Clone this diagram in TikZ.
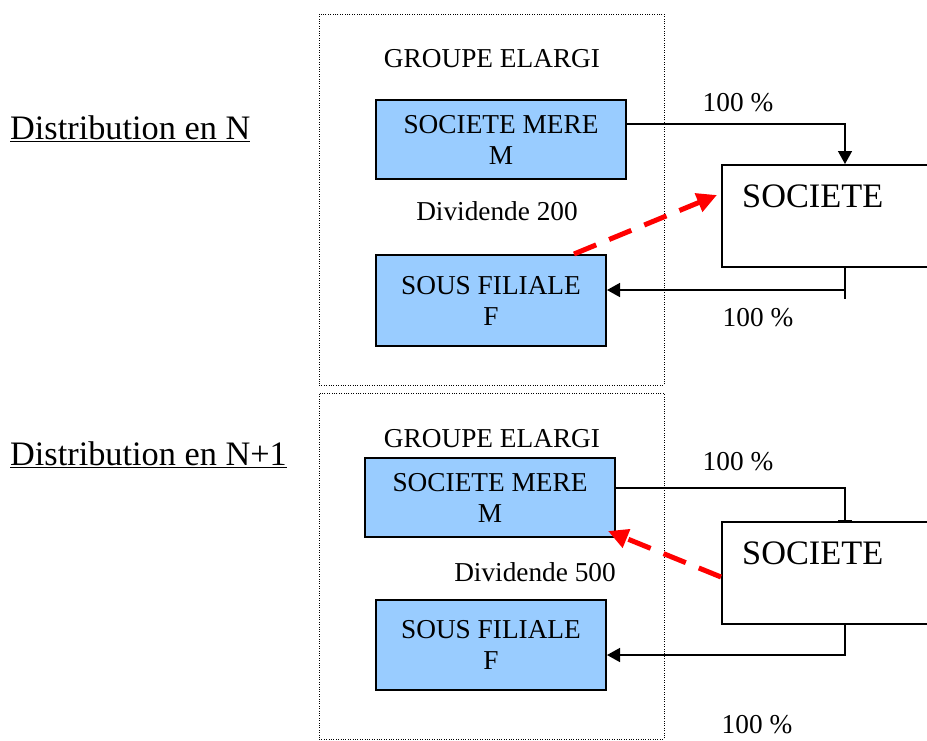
\documentclass[tikz,border=0pt]{standalone}
\usepackage{fontspec}
\setmainfont{Liberation Serif}
\usetikzlibrary{arrows.meta,calc}
\definecolor{boxblue}{HTML}{99CCFF}
\definecolor{divred}{HTML}{FF0000}

\begin{document}
\begin{tikzpicture}[x=1pt,y=-1pt,
  txt/.style={font=\fontsize{27.3}{31.4}\selectfont, inner sep=0pt},
  bigtxt/.style={font=\fontsize{34.3}{40}\selectfont, inner sep=0pt},
  entity/.style={draw=black, line width=2pt, fill=boxblue, align=center,
                 inner sep=0pt, font=\fontsize{27.3}{31}\selectfont},
  societe/.style={draw=black, line width=2pt, fill=white, inner sep=0pt,
                  minimum width=246pt, minimum height=102pt},
  group/.style={draw=black, line width=0.9pt, dash pattern=on 1pt off 1.4pt,
                inner sep=0pt, minimum width=345pt},
  link/.style={draw=black, line width=1.5pt},
  tip/.style={-{Triangle[length=13pt,width=14pt]}},
  bartip/.style={-{Bar[width=14pt,line width=1.5pt]}},
  div/.style={draw=divred, line width=5pt, dash pattern=on 24pt off 14pt,
              -{Triangle[length=20pt,width=19pt]}}
]
\useasboundingbox (0,0) rectangle (927,740);
\clip (0,0) rectangle (927,740);

% ---------- Distribution en N ----------
\node[group, minimum height=371pt] (grp1) at (491.5,199.5) {};
\node[bigtxt, anchor=base west] (title1) at (10,139.5) {\underline{Distribution en N}};
\node[txt, anchor=base] (elargi1) at (492,67) {GROUPE ELARGI};

\node[entity, minimum width=250pt, minimum height=79pt] (mere1) at (501,139.5)
  {SOCIETE MERE\\M};
\node[txt, anchor=base] (div1) at (497,220) {Dividende 200};
\node[entity, minimum width=230pt, minimum height=91pt] (sous1) at (491,300.5)
  {SOUS FILIALE\\F};

\node[societe] (soc1) at (845,216) {};
\node[bigtxt, anchor=base west] (soc1t) at (742,207) {SOCIETE};

\draw[link, tip] (mere1.east |- 0,124) -| (soc1.north);
\node[txt, anchor=base] (pct1a) at (738,111) {100 \%};
\draw[link] (soc1.south) -- ++(0,31);
\draw[link, tip] (soc1.south |- 0,290) -- (sous1.east |- 0,290);
\node[txt, anchor=base] (pct1b) at (758,326) {100 \%};

\draw[div] (sous1.north -| 574,0) -- ($(soc1.west |- 0,195)+(-4,0)$);

% ---------- Distribution en N+1 ----------
\node[group, minimum height=346pt] (grp2) at (491.5,566) {};
\node[bigtxt, anchor=base west] (title2) at (10,465.5) {\underline{Distribution en N+1}};
\node[txt, anchor=base] (elargi2) at (492,447) {GROUPE ELARGI};

\node[entity, minimum width=250pt, minimum height=79pt] (mere2) at (490,497.5)
  {SOCIETE MERE\\M};
\node[txt, anchor=base] (div2) at (535,581) {Dividende 500};
\node[entity, minimum width=230pt, minimum height=90pt] (sous2) at (491,645)
  {SOUS FILIALE\\F};

\node[societe] (soc2) at (845,573) {};
\node[bigtxt, anchor=base west] (soc2t) at (742,564) {SOCIETE};

\draw[link, bartip] (mere2.east |- 0,488) -| (soc2.north);
\node[txt, anchor=base] (pct2a) at (738,470) {100 \%};
\draw[link, tip] (soc2.south) |- (sous2.east |- 0,655);
\node[txt, anchor=base] (pct2b) at (757,733) {100 \%};

\draw[div] (soc2.west |- 0,577) -- ($(mere2.south east)+(-8,-7)$);
\end{tikzpicture}
\end{document}
